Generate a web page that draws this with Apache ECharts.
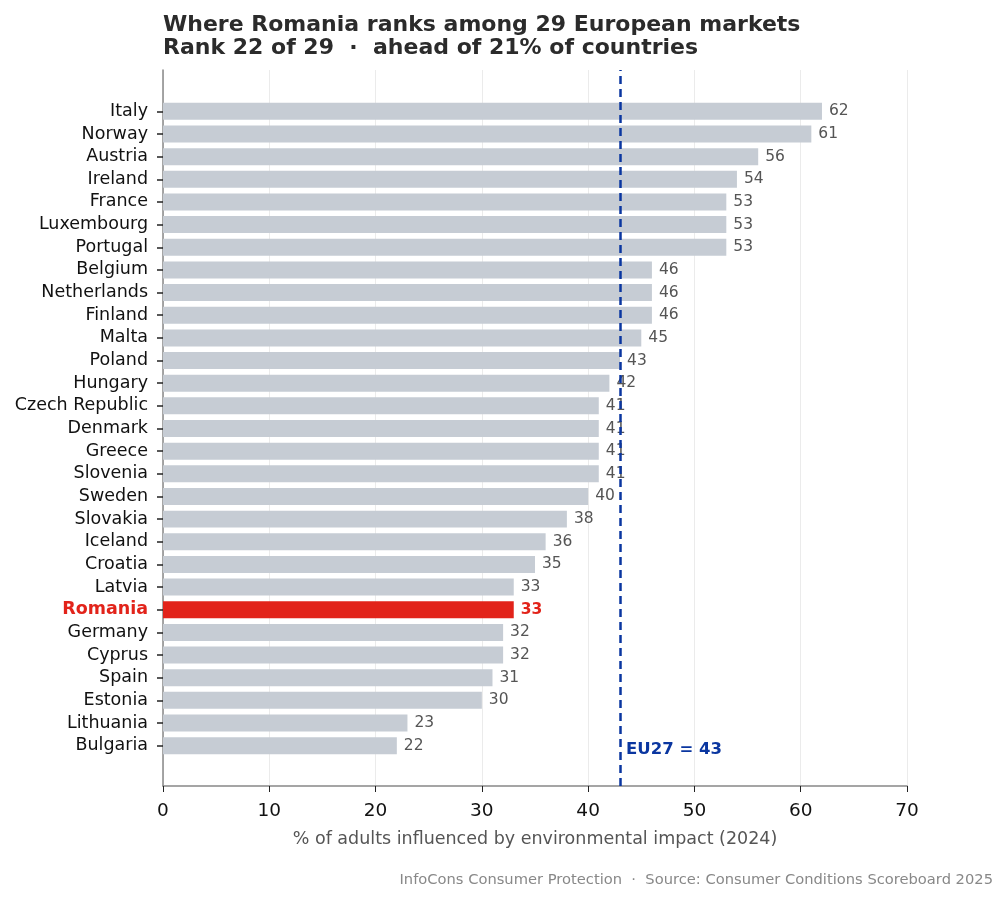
<!DOCTYPE html>
<html>
<head>
<meta charset="utf-8">
<script src="https://cdn.jsdelivr.net/npm/echarts@6/dist/echarts.min.js"></script>
<style>
  html, body { margin: 0; padding: 0; background: #fff; }
  #chart { width: 1008px; height: 902px; }
</style>
</head>
<body>
<div id="chart"></div>
<script>
const countries = ["Italy", "Norway", "Austria", "Ireland", "France", "Luxembourg", "Portugal",
  "Belgium", "Netherlands", "Finland", "Malta", "Poland", "Hungary", "Czech Republic", "Denmark",
  "Greece", "Slovenia", "Sweden", "Slovakia", "Iceland", "Croatia", "Latvia", "Romania",
  "Germany", "Cyprus", "Spain", "Estonia", "Lithuania", "Bulgaria"];
const values = [62, 61, 56, 54, 53, 53, 53, 46, 46, 46, 45, 43, 42, 41, 41, 41, 41, 40, 38, 36,
  35, 33, 33, 32, 32, 31, 30, 23, 22];
const xTicks = [0, 10, 20, 30, 40, 50, 60, 70];
const highlight = "Romania";
const eu27 = 43;

const FONT = "DejaVu Sans";
const GREY_BAR = "#c6ccd4";
const RED = "#e2231a";
const BLUE = "#0a36a0";

const chart = echarts.init(document.getElementById("chart"));

const barData = values.map((v, i) => {
  const isHi = countries[i] === highlight;
  return {
    value: v,
    itemStyle: { color: isHi ? RED : GREY_BAR },
    label: isHi ? { color: RED, fontWeight: "bold" } : undefined
  };
});

chart.setOption({
  animation: false,
  title: {
    text: "Where Romania ranks among 29 European markets\nRank 22 of 29  \u00b7  ahead of 21% of countries",
    left: 158,
    top: 9,
    textStyle: { fontFamily: FONT, fontSize: 22, fontWeight: "bold", color: "#2b2b2b", lineHeight: 23 }
  },
  graphic: [{
    type: "text",
    right: 15,
    top: 873,
    style: {
      text: "InfoCons Consumer Protection  \u00b7  Source: Consumer Conditions Scoreboard 2025",
      font: "14.7px 'DejaVu Sans'",
      fill: "#888"
    }
  }],
  grid: [
    { left: 163, right: 101, top: 70, bottom: 116 },
    { left: 163, right: 101, top: 100, bottom: 145 }
  ],
  xAxis: [
    {
      gridIndex: 0,
      type: "value",
      min: xTicks[0],
      max: xTicks[xTicks.length - 1],
      interval: 10,
      name: "% of adults influenced by environmental impact (2024)",
      nameLocation: "middle",
      nameGap: 44,
      nameTextStyle: { fontFamily: FONT, fontSize: 17.5, color: "#555" },
      axisLine: { show: true, lineStyle: { color: "#888", width: 1.5 } },
      axisTick: { show: true, length: 6, lineStyle: { color: "#222" } },
      axisLabel: { fontFamily: FONT, fontSize: 18.5, color: "#111", margin: 16 },
      splitLine: { show: true, lineStyle: { color: "#ebebeb", width: 1 } }
    },
    {
      gridIndex: 1,
      type: "value",
      min: xTicks[0],
      max: xTicks[xTicks.length - 1],
      show: false
    }
  ],
  yAxis: [
    {
      gridIndex: 0,
      type: "value",
      min: 0,
      max: 1,
      axisLine: { show: true, lineStyle: { color: "#888", width: 1.5 } },
      axisTick: { show: false },
      axisLabel: { show: false },
      splitLine: { show: false }
    },
    {
      gridIndex: 1,
      type: "category",
      data: countries,
      inverse: true,
      axisLine: { show: false },
      axisTick: { show: true, alignWithLabel: true, interval: 0, length: 6, lineStyle: { color: "#222", width: 1.5 } },
      axisLabel: {
        interval: 0,
        fontFamily: FONT,
        fontSize: 17.5,
        color: "#111",
        margin: 15,
        formatter: (v) => v === highlight ? "{hi|" + v + "}" : v,
        rich: { hi: { fontFamily: FONT, fontSize: 17.5, fontWeight: "bold", color: RED } }
      }
    }
  ],
  series: [
    {
      type: "bar",
      xAxisIndex: 1,
      yAxisIndex: 1,
      data: barData,
      barCategoryGap: "25%",
      label: {
        show: true,
        position: "right",
        distance: 7,
        fontFamily: FONT,
        fontSize: 15.5,
        color: "#555"
      },
      z: 2
    },
    {
      type: "scatter",
      xAxisIndex: 0,
      yAxisIndex: 0,
      symbolSize: 0,
      itemStyle: { opacity: 1 },
      data: [[eu27, 0.05]],
      label: {
        show: true,
        position: "right",
        distance: 6,
        formatter: "EU27 = " + eu27,
        fontFamily: FONT,
        fontSize: 16.5,
        fontWeight: "bold",
        color: BLUE,
        opacity: 1
      },
      markLine: {
        silent: true,
        symbol: "none",
        label: { show: false },
        lineStyle: { color: BLUE, width: 2.5, type: [8, 5] },
        data: [{ xAxis: eu27 }]
      },
      z: 5
    }
  ]
});
</script>
</body>
</html>
